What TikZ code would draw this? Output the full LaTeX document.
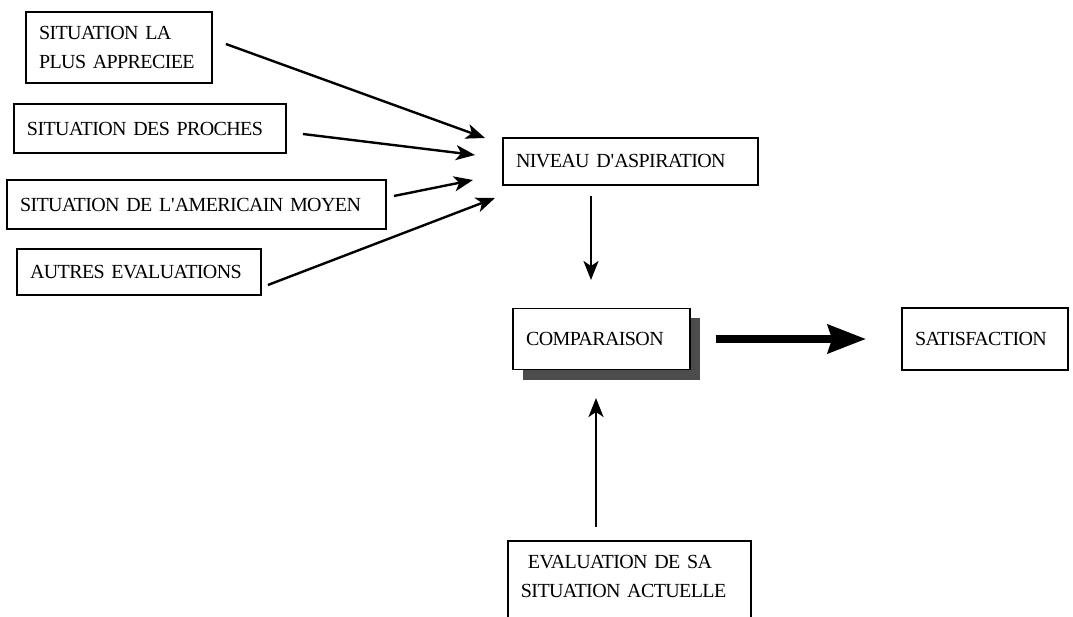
\documentclass[tikz,border=0pt]{standalone}
\usepackage{fontspec}
\setmainfont[LetterSpace=-3,WordSpace=0.5]{Liberation Serif}
\usetikzlibrary{arrows.meta,shadows}

\tikzset{
    box/.style={draw, line width=1.8pt, rectangle, align=left, inner xsep=13pt,
        font=\fontsize{20pt}{29pt}\selectfont},
    arr/.style={-{Stealth[length=19pt,width=15pt,inset=5pt]}, line width=2.4pt},
    bigarr/.style={-{Stealth[length=38pt,width=28pt,inset=4pt]}, line width=8pt}
}

\begin{document}
\begin{tikzpicture}[x=1pt,y=-1pt]
            \clip (0,0) rectangle (1073,617);

            \node[box, text width=160pt, minimum height=71pt] (b1) at (119,47.5) {SITUATION LA\\PLUS APPRECIEE};
            \node[box, text width=246pt, minimum height=49pt] (b2) at (150,128.5) {SITUATION DES PROCHES};
            \node[box, text width=353pt, minimum height=49pt] (b3) at (196.5,204.5) {SITUATION DE L\textquotesingle AMERICAIN MOYEN};
            \node[box, text width=218pt, minimum height=46pt] (b4) at (139,272) {AUTRES EVALUATIONS};

            \node[box, text width=229pt, minimum height=47pt] (niveau) at (630.5,161.5) {NIVEAU D\textquotesingle ASPIRATION};
            \node[box, text width=151pt, minimum height=61pt, fill=white,
                drop shadow={shadow xshift=10pt, shadow yshift=-10pt, fill=black!70, opacity=1}] (comp) at (601.5,339) {COMPARAISON};
            \node[box, text width=140pt, minimum height=62pt] (satis) at (985,339) {SATISFACTION};
            \node[box, text width=217pt, anchor=north west, inner ysep=14pt, text depth=60pt] (eval) at (507,540) {\hspace{7pt}EVALUATION DE SA\\SITUATION ACTUELLE};

            \coordinate (t1) at (485,138);
            \coordinate (t2) at (475,155);
            \coordinate (t3) at (473,180);
            \coordinate (t4) at (495,198);
            \coordinate (n2c) at (591,280);
            \coordinate (e2c) at (596,398);

            \draw[arr] ([xshift=13pt,yshift=3.5pt]b1.east) -- (t1);
            \draw[arr] ([xshift=16pt,yshift=-5.5pt]b2.east) -- (t2);
            \draw[arr] ([xshift=7pt,yshift=8.5pt]b3.east) -- (t3);
            \draw[arr] ([xshift=6pt,yshift=-13pt]b4.east) -- (t4);

            \draw[arr, shorten <=10pt] (niveau.south -| n2c) -- (n2c);
            \draw[arr, shorten <=13pt] (eval.north -| e2c) -- (e2c);

            \draw[bigarr] ([xshift=25pt]comp.east) -- ([xshift=-35pt]satis.west);
        \end{tikzpicture}
\end{document}
